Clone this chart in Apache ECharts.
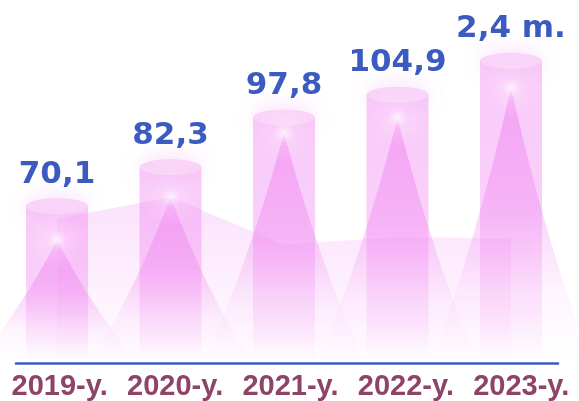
<!DOCTYPE html>
<html><head><meta charset="utf-8">
<script src="https://cdn.jsdelivr.net/npm/echarts@6/dist/echarts.min.js"></script>
<style>html,body{margin:0;padding:0;background:#fff}#c{width:579px;height:401px}</style>
</head><body><div id="c"></div>
<script>
// ---- data ----
const categories = ['2019-y.', '2020-y.', '2021-y.', '2022-y.', '2023-y.'];
const barValues = [70.1, 82.3, 97.8, 104.9, 115.5];
const valueLabels = ['70,1', '82,3', '97,8', '104,9', '2,4 m.'];
const spikeValues = [59.5, 72.9, 92.9, 97.6, 107];
const areaValues = [66.1, 72.9, 58, 60.4, 60];
const yMin = 22, yMax = 130;

// ---- chart ----
const chart = echarts.init(document.getElementById('c'), null, { renderer: 'canvas' });
const pink = a => `rgba(240,130,240,${a})`;
const vGrad = stops => new echarts.graphic.LinearGradient(0, 0, 0, 1, stops.map(([o, c]) => ({ offset: o, color: c })));
const glow = new echarts.graphic.RadialGradient(0.5, 0.5, 0.5, [
  { offset: 0, color: 'rgba(255,255,255,1)' },
  { offset: 0.1, color: 'rgba(255,248,255,0.8)' },
  { offset: 0.35, color: 'rgba(255,235,255,0.3)' },
  { offset: 1, color: 'rgba(255,235,255,0)' }
]);
const spikeFill = vGrad([[0, pink(0.55)], [0.45, pink(0.36)], [0.75, pink(0.08)], [1, pink(0)]]);

function renderSpike(params, api) {
  const i = api.value(0), v = api.value(1);
  const top = api.coord([i, v]);
  const base = api.coord([i, yMin]);
  const half = api.size([1, 0])[0] * 0.7;
  const H = base[1] - top[1];
  const x = top[0], by = base[1], ty = top[1];
  const path = `M${x - half},${by} Q${x - half * 0.45},${by - H * 0.42} ${x},${ty} Q${x + half * 0.45},${by - H * 0.42} ${x + half},${by} Z`;
  return { type: 'path', shape: { pathData: path }, style: { fill: spikeFill } };
}

const option = {
  animation: false,
  grid: [
    { left: 0.25, width: 567.5, top: 14.4, bottom: 41 },
    { left: 16, right: 21, top: 14.4, bottom: 38 },
    { left: 2, width: 583.5, top: 14.4, bottom: 38 }
  ],
  xAxis: [
    { gridIndex: 0, type: 'category', data: categories, show: false },
    { gridIndex: 1, type: 'category', data: categories, axisLine: { lineStyle: { color: '#3a5cc0', width: 2.5 } }, axisTick: { show: false }, axisLabel: { show: false } },
    { gridIndex: 2, type: 'category', data: categories, axisLine: { show: false }, axisTick: { show: false },
      axisLabel: { interval: 0, margin: 9, fontSize: 29, fontWeight: 'bold', fontFamily: 'Liberation Sans', color: '#8e4468' } }
  ],
  yAxis: [
    { gridIndex: 0, type: 'value', min: yMin, max: yMax, show: false },
    { gridIndex: 1, type: 'value', show: false },
    { gridIndex: 2, type: 'value', show: false }
  ],
  series: [
    {
      type: 'line', data: areaValues, symbol: 'none', z: 1, silent: true,
      lineStyle: { width: 0 },
      areaStyle: { origin: 'start', color: vGrad([[0, pink(0.34)], [0.5, pink(0.18)], [1, pink(0.01)]]) }
    },
    {
      type: 'custom', data: spikeValues.map((v, i) => [i, v]), z: 2, silent: true, clip: false,
      encode: { x: 0, y: 1 }, renderItem: renderSpike
    },
    {
      type: 'bar', data: barValues, z: 3, barWidth: 62, barGap: '-100%', silent: true,
      itemStyle: { color: vGrad([[0, pink(0.42)], [0.5, pink(0.38)], [0.85, pink(0.15)], [1, pink(0)]]) }
    },
    {
      type: 'pictorialBar', data: barValues, z: 4, barWidth: 62, barGap: '-100%', silent: true,
      symbol: 'circle', symbolSize: [62, 16], symbolPosition: 'end', symbolOffset: [0, '-50%'],
      itemStyle: { color: '#f9d4f8', shadowBlur: 22, shadowColor: 'rgba(240,160,240,0.45)' },
      label: {
        show: true, position: 'top', distance: 8,
        formatter: p => valueLabels[p.dataIndex],
        fontFamily: 'DejaVu Sans', fontWeight: 'bold', fontSize: 31, color: '#3b5bc0'
      }
    },
    {
      type: 'scatter', data: spikeValues, z: 5, silent: true,
      symbol: 'circle', symbolSize: 60,
      itemStyle: { color: glow }
    }
  ]
};
chart.setOption(option);
</script></body></html>
